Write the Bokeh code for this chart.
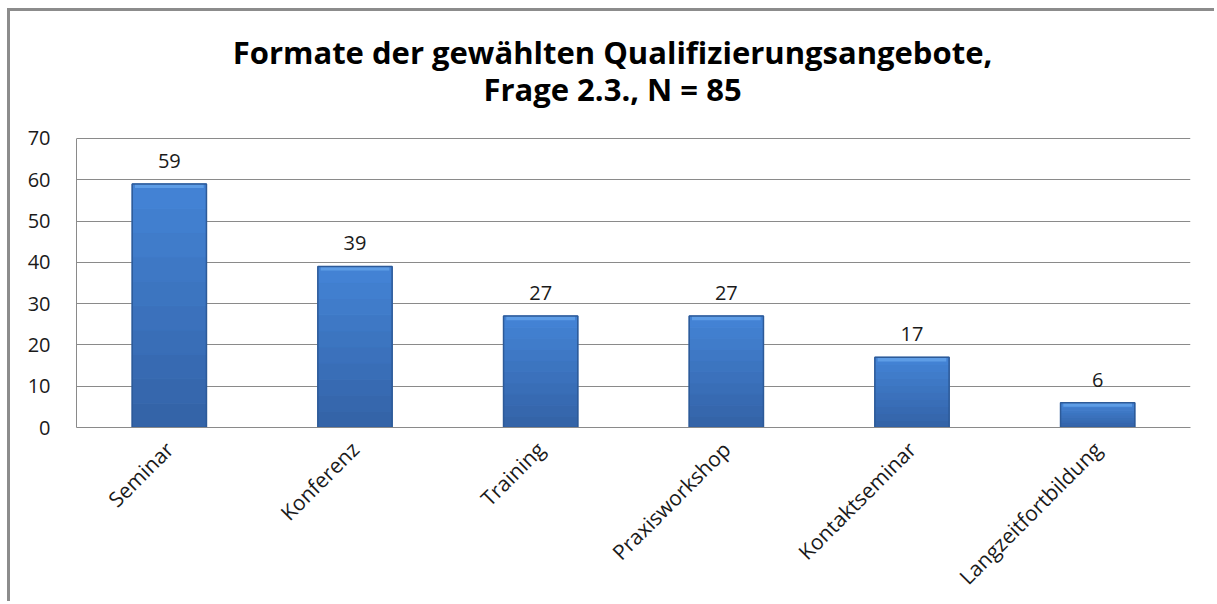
from bokeh.plotting import figure
from bokeh.models import (FactorRange, Range1d, ColumnDataSource, Label,
                          LabelSet, FixedTicker)
from bokeh.core.properties import value
from bokeh.embed import file_html
from bokeh.resources import INLINE
from math import pi

# --- data -------------------------------------------------------------
formats = ["Seminar", "Konferenz", "Training", "Praxisworkshop",
           "Kontaktseminar", "Langzeitfortbildung"]
counts = [59, 39, 27, 27, 17, 6]
y_ticks = [0, 10, 20, 30, 40, 50, 60, 70]
title_lines = ["Formate der gewählten Qualifizierungsangebote,",
               "Frage 2.3., N = 85"]

FONT = "Open Sans"
TEXT = "#1a1a1a"
GRID = "#8a8a8a"

# The frame reaches the top of the canvas so the heading can live inside
# it; the axis and grid stop at 70.
p = figure(x_range=FactorRange(*formats), y_range=Range1d(0, 100.76),
           width=1207, height=593, output_backend="svg",
           toolbar_location=None,
           min_border_left=66, min_border_right=27,
           min_border_top=0, min_border_bottom=177)
# the page border takes 7+3 px on the left and 8+3 px on top
p.styles = {"margin-left": "7px", "margin-top": "8px",
            "border-left": "3px solid #8c8c8c",
            "border-top": "3px solid #8c8c8c"}
p.outline_line_color = None
p.background_fill_color = "white"
p.border_fill_color = "white"
p.title = None

# heading: two centred lines placed relative to the plot frame
for text, dy in zip(title_lines, [376, 339]):
    p.add_layout(Label(x=536, y=dy, x_units="screen", y_units="screen",
                       text=text, text_align="center", text_baseline="middle",
                       text_font=FONT, text_font_size="31px",
                       text_font_style="bold", text_color="black"))

# bars: a soft vertical gradient built from stacked slices of each value
n_slices = 10
bottom_rgb = (0x33, 0x62, 0xa6)
top_rgb = (0x44, 0x84, 0xd6)
xs, tops, bottoms, colors = [], [], [], []
for name, v in zip(formats, counts):
    for k in range(n_slices):
        t = (k + 0.5) / n_slices
        c = tuple(int(round(b + (a - b) * t)) for a, b in zip(top_rgb, bottom_rgb))
        xs.append(name)
        bottoms.append(v * k / n_slices)
        tops.append(v * (k + 1) / n_slices)
        colors.append("#%02x%02x%02x" % c)
grad = ColumnDataSource(dict(x=xs, top=tops, bottom=bottoms, color=colors))
p.vbar(x="x", top="top", bottom="bottom", width=0.4, source=grad,
       fill_color="color", line_color="color", line_width=1)

src = ColumnDataSource(dict(x=formats, top=counts,
                            bevel=[max(c - 1.0, 0) for c in counts]))
# lighter bevel along the top edge
p.vbar(x="x", top="top", bottom="bevel", width=0.37, source=src,
       fill_color="#5e9de6", line_color=None)
# bar outline
p.vbar(x="x", top="top", width=0.4, source=src, fill_color=None,
       line_color="#2d5a98", line_width=1.5)

# value labels
labels = LabelSet(x="x", y="top", text="top", source=src,
                  text_align="center", text_baseline="alphabetic",
                  y_offset=16, text_font=value(FONT), text_font_size="20px",
                  text_color=TEXT)
p.add_layout(labels)

# axes
p.yaxis.ticker = FixedTicker(ticks=y_ticks)
p.yaxis.bounds = (0, 70)
p.yaxis.major_tick_line_color = None
p.yaxis.minor_tick_line_color = None
p.yaxis.axis_line_color = GRID
p.yaxis.major_label_standoff = 20
p.yaxis.major_label_text_font = FONT
p.yaxis.major_label_text_font_size = "20px"
p.yaxis.major_label_text_color = TEXT

p.xaxis.major_tick_line_color = None
p.xaxis.axis_line_color = GRID
p.xaxis.major_label_orientation = pi / 4
p.xaxis.major_label_standoff = 12
p.xaxis.major_label_text_font = FONT
p.xaxis.major_label_text_font_size = "21px"
p.xaxis.major_label_text_color = TEXT

p.xgrid.grid_line_color = None
p.ygrid.grid_line_color = GRID
p.ygrid.ticker = FixedTicker(ticks=y_ticks)

open("out.html", "w").write(file_html(p, INLINE))
